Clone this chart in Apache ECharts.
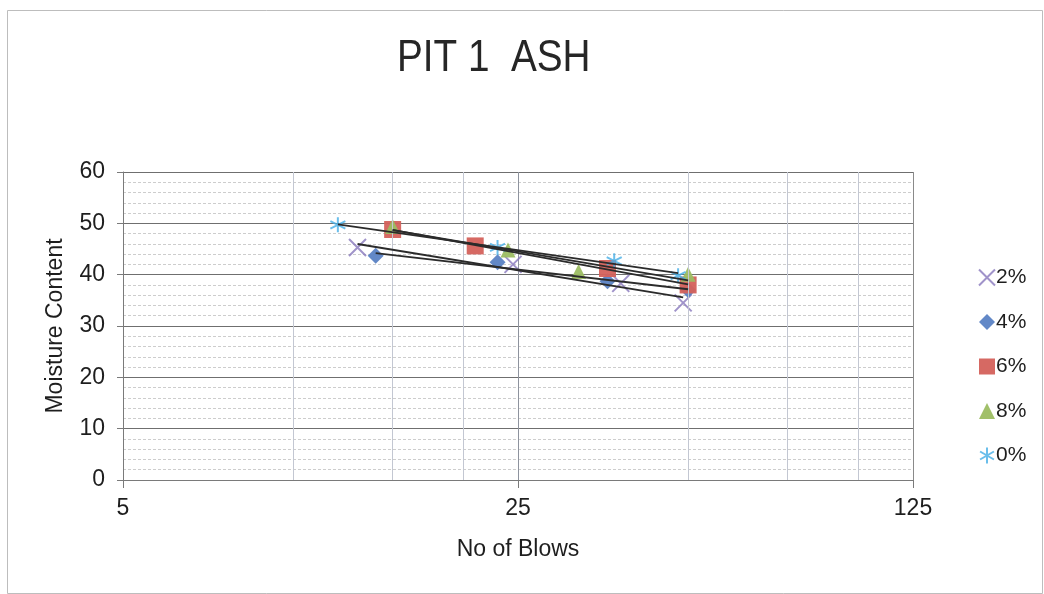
<!DOCTYPE html>
<html>
<head>
<meta charset="utf-8">
<style>
  html, body { margin: 0; padding: 0; background: #ffffff; }
  #chart { width: 1044px; height: 594px; }
</style>
<script src="https://cdn.jsdelivr.net/npm/echarts@6/dist/echarts.min.js"></script>
</head>
<body>
<div id="chart"></div>
<script>
// Liquid-limit test results: [number of blows, moisture content %]
const ash2 = [[13, 45.3], [24.5, 42.0], [38, 38.3], [49, 34.5]];
const ash4 = [[14, 43.7], [23, 42.4], [36, 38.7], [50, 37.0]];
const ash6 = [[15, 48.8], [21, 45.6], [36, 41.2], [50, 38.0]];
const ash8 = [[15, 49.4], [24, 44.8], [32, 40.6], [50, 40.1]];
const ash0 = [[12, 49.7], [23, 45.3], [37, 42.7], [48, 39.8]];

const seriesNames = ['2%', '4%', '6%', '8%', '0%'];
const blowTicks = [5, 25, 125];
const minorBlowLines = [10, 15, 20, 50, 75, 100];
const chartTitle = 'PIT 1  ASH';

const FONT = '"Liberation Sans", Arial, sans-serif';
const TEXT = '#1e1e1e';

// Logarithmic trendline (y = a ln x + b) between the smallest and largest blow count
function logTrend(points) {
  const n = points.length;
  const lx = points.map(p => Math.log(p[0]));
  const ys = points.map(p => p[1]);
  const mx = lx.reduce((s, v) => s + v, 0) / n;
  const my = ys.reduce((s, v) => s + v, 0) / n;
  let sxy = 0, sxx = 0;
  for (let i = 0; i < n; i++) {
    sxy += (lx[i] - mx) * (ys[i] - my);
    sxx += (lx[i] - mx) * (lx[i] - mx);
  }
  const a = sxy / sxx;
  const b = my - a * mx;
  const xs = points.map(p => p[0]);
  const x0 = Math.min(...xs), x1 = Math.max(...xs);
  return [[x0, a * Math.log(x0) + b], [x1, a * Math.log(x1) + b]];
}

const xPath = 'path://M0,0L10,10M10,0L0,10';
const starPath = 'path://M5,0L5,10M0.67,2.5L9.33,7.5M0.67,7.5L9.33,2.5';

const markerDefs = [
  { name: seriesNames[0], data: ash2, symbol: xPath, size: 17, stroke: '#8878bd' },
  { name: seriesNames[1], data: ash4, symbol: 'diamond', size: 16, fill: '#5a82c4' },
  { name: seriesNames[2], data: ash6, symbol: 'rect', size: 17, fill: '#d4615b' },
  { name: seriesNames[3], data: ash8, symbol: 'triangle', size: 15, fill: '#9cbd62' },
  { name: seriesNames[4], data: ash0, symbol: starPath, size: 15, stroke: '#45aee6' }
];

const series = [];
markerDefs.forEach(d => {
  series.push({
    name: d.name,
    type: 'scatter',
    data: d.data,
    symbol: d.symbol,
    symbolSize: d.size,
    z: 3,
    itemStyle: d.stroke
      ? { color: 'rgba(0,0,0,0)', borderColor: d.stroke, borderWidth: 2 }
      : { color: d.fill, opacity: 0.95 },
    emphasis: { disabled: true }
  });
});
markerDefs.forEach(d => {
  series.push({
    name: d.name + ' trend',
    type: 'line',
    data: logTrend(d.data),
    showSymbol: false,
    symbol: 'none',
    z: 5,
    lineStyle: { color: '#2b2b2b', width: 1.9 },
    emphasis: { disabled: true },
    silent: true
  });
});
// Minor vertical grid lines at 2x, 3x, 4x of each decade on the base-5 axis
series.push({
  name: 'minor-grid',
  type: 'line',
  data: [],
  silent: true,
  z: 1,
  markLine: {
    silent: true,
    symbol: 'none',
    label: { show: false },
    lineStyle: { color: '#c3c7d2', width: 1, type: 'solid' },
    data: minorBlowLines.map(v => ({ xAxis: v }))
  }
});

const chart = echarts.init(document.getElementById('chart'), null, { renderer: 'canvas' });
chart.setOption({
  backgroundColor: '#ffffff',
  animation: false,
  legend: {
    orient: 'vertical',
    left: 973,
    top: 262,
    itemWidth: 16,
    itemHeight: 16,
    itemGap: 23.5,
    data: seriesNames,
    textStyle: { fontFamily: FONT, fontSize: 21, color: TEXT, padding: [0, 0, 0, -4] }
  },
  grid: { left: 123, right: 131, top: 172, bottom: 114 },
  xAxis: {
    type: 'log',
    logBase: 5,
    min: blowTicks[0],
    max: blowTicks[blowTicks.length - 1],
    name: 'No of Blows',
    nameLocation: 'middle',
    nameGap: 58,
    nameTextStyle: { fontFamily: FONT, fontSize: 23, color: TEXT },
    axisLine: { show: true, lineStyle: { color: '#7a7a7a', width: 1 } },
    axisTick: { show: true, length: 8, lineStyle: { color: '#7a7a7a' } },
    axisLabel: { fontFamily: FONT, fontSize: 23, color: TEXT, margin: 17 },
    splitLine: { show: true, lineStyle: { color: '#8e939e', width: 1 } }
  },
  yAxis: {
    type: 'value',
    min: 0,
    max: 60,
    interval: 10,
    name: 'Moisture Content',
    nameLocation: 'middle',
    nameGap: 56,
    nameTextStyle: { fontFamily: FONT, fontSize: 23, color: TEXT },
    axisLine: { show: true, lineStyle: { color: '#7a7a7a', width: 1 } },
    axisTick: { show: true, length: 6, lineStyle: { color: '#7a7a7a' } },
    axisLabel: { fontFamily: FONT, fontSize: 23, color: TEXT, margin: 18 },
    splitLine: { show: true, lineStyle: { color: '#6f6f6f', width: 1 } },
    minorTick: { show: false, splitNumber: 5 },
    minorSplitLine: { show: true, lineStyle: { color: '#cdcdcd', width: 1, type: [3, 2] } }
  },
  graphic: [
    // condensed chart title
    {
      type: 'text',
      x: 397, y: 36,
      scaleX: 0.86,
      silent: true,
      style: {
        text: chartTitle,
        x: 0, y: 0,
        font: '45px "Liberation Sans", Arial, sans-serif',
        fill: '#262626',
        textVerticalAlign: 'top'
      }
    },
    // chart area frame and plot-area right edge
    {
      type: 'rect',
      left: 5, top: 8,
      shape: { width: 1035, height: 583 },
      style: { fill: 'none', stroke: '#bdbdbd', lineWidth: 1 },
      silent: true, z: -10
    },
    {
      type: 'line',
      shape: { x1: 913.5, y1: 172, x2: 913.5, y2: 480 },
      style: { stroke: '#8a8a8a', lineWidth: 1 },
      silent: true, z: 10
    }
  ],
  series: series
});
</script>
</body>
</html>
